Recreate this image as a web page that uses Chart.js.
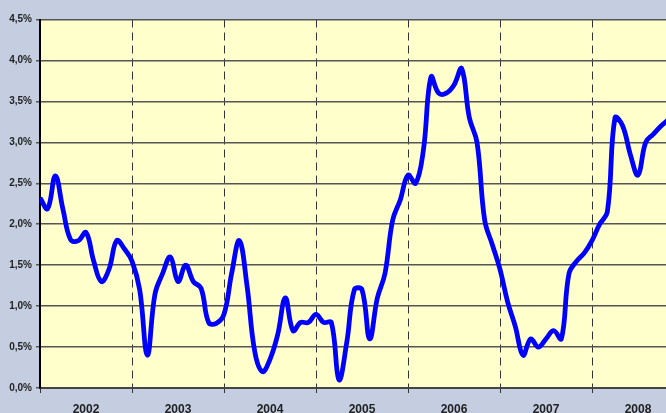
<!DOCTYPE html>
<html>
<head>
<meta charset="utf-8">
<script src="https://cdn.jsdelivr.net/npm/chart.js@4/dist/chart.umd.min.js"></script>
<style>
html,body{margin:0;padding:0;background:#C4CEE0;overflow:hidden;}
#wrap{position:relative;width:666px;height:413px;}
</style>
</head>
<body>
<div id="wrap"><canvas id="c" width="666" height="413"></canvas></div>
<script>
// Year labels (one per 12 months, starting Jan 2002)
const years = ['2002','2003','2004','2005','2006','2007','2008'];
// Y tick values (%)
const yTicks = [0,0.5,1,1.5,2,2.5,3,3.5,4,4.5];
// Monthly values (%), Jan 2002 onward
const monthly2002 = [2.32,2.19,2.59,2.18,1.81,1.80,1.90,1.55,1.30,1.45,1.80,1.70];
const monthly2003 = [1.55,1.20,0.40,1.15,1.40,1.60,1.30,1.50,1.30,1.22,0.80,0.79];
const monthly2004 = [0.90,1.40,1.80,1.25,0.45,0.20,0.35,0.65,1.10,0.70,0.80,0.80];
const monthly2005 = [0.90,0.80,0.80,0.10,0.55,1.20,1.20,0.60,1.10,1.40,2.05,2.30];
const monthly2006 = [2.60,2.50,2.90,3.80,3.60,3.60,3.70,3.90,3.30,3.00,2.05,1.75];
const monthly2007 = [1.45,1.05,0.75,0.40,0.60,0.50,0.60,0.70,0.60,1.40,1.55,1.65];
const monthly2008 = [1.80,2.00,2.15,3.30,3.20,2.85,2.60,3.00,3.10,3.20,3.28];

const values = [].concat(monthly2002,monthly2003,monthly2004,monthly2005,monthly2006,monthly2007,monthly2008);
const points = values.map((v,i)=>({x:i,y:v}));

const plotBg = {
  id:'plotBg',
  beforeDraw(chart){
    const {ctx,chartArea:a} = chart;
    ctx.save();
    ctx.fillStyle = '#FFFFCC';
    ctx.fillRect(a.left,a.top,a.right-a.left,a.bottom-a.top);
    ctx.restore();
  }
};

new Chart(document.getElementById('c'),{
  type:'line',
  data:{datasets:[{
    data:points,
    borderColor:'#0000FF',
    borderWidth:4.8,
    pointRadius:0,
    tension:0.4,
    fill:false
  }]},
  options:{
    responsive:false,
    animation:false,
    events:[],
    layout:{padding:{top:19.5,left:0,right:0,bottom:0}},
    plugins:{legend:{display:false},tooltip:{enabled:false}},
    scales:{
      x:{
        type:'linear',
        min:0,
        max:81.65,
        afterBuildTicks(scale){ scale.ticks = years.map((y,i)=>({value:i*12})); },
        afterFit(scale){ scale.height = 25; },
        grid:{
          color:'#333',
          lineWidth:1,
          tickBorderDash:[],
          tickColor:'#333',
          tickLength:5,
          drawTicks:true
        },
        border:{display:true,color:'#444',width:2,dash:[8,5]},
        ticks:{
          autoSkip:false,
          maxRotation:0,
          labelOffset:46,
          padding:9,
          color:'#222',
          font:{family:'Liberation Sans, Arial, sans-serif',size:12,weight:'bold'},
          callback:(v)=>{ const i=Math.round(v/12); return years[i]; }
        }
      },
      y:{
        min:0,
        max:4.5,
        afterBuildTicks(scale){ scale.ticks = yTicks.map(v=>({value:v})); },
        afterFit(scale){ scale.width = 40; },
        grid:{color:'#555',lineWidth:1.5,tickLength:4,tickColor:'#555'},
        border:{display:true,color:'#000',width:2},
        ticks:{
          padding:4,
          color:'#222',
          font:{family:'Liberation Sans, Arial, sans-serif',size:10,weight:'bold'},
          callback:(v)=>v.toFixed(1).replace('.',',')+'%'
        }
      }
    }
  },
  plugins:[plotBg]
});
</script>
</body>
</html>
